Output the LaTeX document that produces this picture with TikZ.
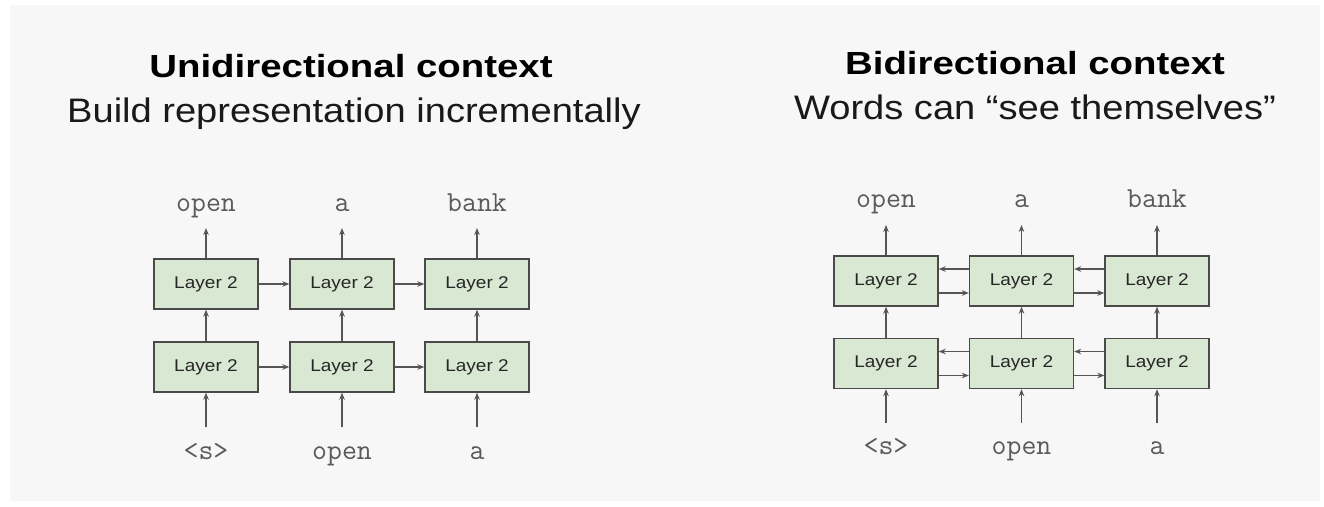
\documentclass[tikz,border=0pt]{standalone}
\usepackage{fontspec}
\setmainfont{Liberation Sans}
\usetikzlibrary{arrows.meta}
\definecolor{bgfill}{HTML}{F7F7F7}
\definecolor{boxfill}{HTML}{D9E8D2}
\definecolor{boxline}{HTML}{4A4A4A}
\definecolor{arr}{HTML}{555555}
\definecolor{lbl}{HTML}{5A5A5A}
\newcommand{\hs}[1]{\scalebox{1.12}[1]{#1}}
\tikzset{
  lay/.style={draw=boxline, line width=1.4pt, fill=boxfill, minimum width=104pt, minimum height=50pt, inner sep=0pt, font=\fontsize{17}{17}\selectfont, text=black!85},
  wrd/.style={anchor=base, inner sep=0pt, text=lbl, font=\ttfamily\fontsize{29}{29}\selectfont},
  ttl/.style={anchor=base, inner sep=0pt, text=black, font=\bfseries\fontsize{32}{32}\selectfont},
  sub/.style={anchor=base, inner sep=0pt, text=black!90, font=\fontsize{34}{34}\selectfont},
  ar/.style={draw=arr, line width=1.4pt, -{Stealth[length=7pt,width=5.5pt]}},
}
\begin{document}
\begin{tikzpicture}[x=1pt,y=-1pt]
\useasboundingbox (0,0) rectangle (1324,506);
\fill[white] (0,0) rectangle (1324,506);
\fill[bgfill] (10,5) rectangle (1320,501);

% titles
\node[ttl] (t1) at (351,77) {\scalebox{1.2}[1]{Unidirectional context}};
\node[sub] (s1) at (354,122) {\hs{Build representation incrementally}};
\node[ttl] (t2) at (1035,74) {\scalebox{1.2}[1]{Bidirectional context}};
\node[sub] (s2) at (1035,119) {\hs{Words can “see themselves”}};

% ---------- left diagram ----------
\foreach \n/\x in {1/206,2/342,3/477}{
  \node[lay] (LT\n) at (\x,284) {\hs{Layer 2}};
  \node[lay] (LB\n) at (\x,367) {\hs{Layer 2}};
  \coordinate (LO\n) at (\x,228);
  \coordinate (LI\n) at (\x,427);
}
\node[wrd] (lo1) at (206,211) {open};
\node[wrd] (lo2) at (342,211) {a};
\node[wrd] (lo3) at (477,211) {bank};
\node[wrd] (li1) at (206,459) {<s>};
\node[wrd] (li2) at (342,459) {open};
\node[wrd] (li3) at (477,459) {a};
\foreach \n in {1,2,3}{
  \draw[ar] (LT\n.north) -- (LO\n);
  \draw[ar] (LB\n.north) -- (LT\n.south);
  \draw[ar] (LI\n) -- (LB\n.south);
}
\draw[ar] (LT1.east) -- (LT2.west);
\draw[ar] (LT2.east) -- (LT3.west);
\draw[ar] (LB1.east) -- (LB2.west);
\draw[ar] (LB2.east) -- (LB3.west);

% ---------- right diagram ----------
\foreach \n/\x in {1/886,2/1021.5,3/1157}{
  \node[lay] (RT\n) at (\x,281) {\hs{Layer 2}};
  \node[lay] (RB\n) at (\x,363.5) {\hs{Layer 2}};
  \coordinate (RO\n) at (\x,225);
  \coordinate (RI\n) at (\x,423);
}
\node[wrd] (ro1) at (886,207) {open};
\node[wrd] (ro2) at (1021.5,207) {a};
\node[wrd] (ro3) at (1157,207) {bank};
\node[wrd] (ri1) at (886,454) {<s>};
\node[wrd] (ri2) at (1021.5,454) {open};
\node[wrd] (ri3) at (1157,454) {a};
\foreach \n in {1,2,3}{
  \draw[ar] (RT\n.north) -- (RO\n);
  \draw[ar] (RB\n.north) -- (RT\n.south);
  \draw[ar] (RI\n) -- (RB\n.south);
}
\foreach \r in {RT,RB}{
  \draw[ar] ([yshift=-12pt]\r1.east) -- ([yshift=-12pt]\r2.west);
  \draw[ar] ([yshift=-12pt]\r2.east) -- ([yshift=-12pt]\r3.west);
  \draw[ar] ([yshift=12pt]\r2.west) -- ([yshift=12pt]\r1.east);
  \draw[ar] ([yshift=12pt]\r3.west) -- ([yshift=12pt]\r2.east);
}
\end{tikzpicture}
\end{document}
